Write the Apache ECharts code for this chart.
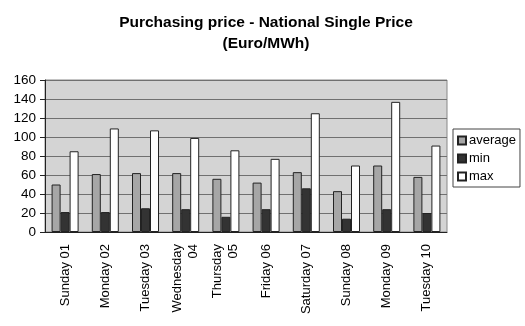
<!DOCTYPE html>
<html>
<head>
<meta charset="utf-8">
<script src="https://cdn.jsdelivr.net/npm/echarts@6/dist/echarts.min.js"></script>
<style>
    html, body { margin: 0; padding: 0; background: #fff; }
    #chart { width: 525px; height: 326px; }
</style>
</head>
<body>
<div id="chart"></div>
<script>
    // 数据
    var days = ['Sunday 01', 'Monday 02', 'Tuesday 03', 'Wednesday\n04', 'Thursday\n05',
        'Friday 06', 'Saturday 07', 'Sunday 08', 'Monday 09', 'Tuesday 10'];
    var avgPrice = [50, 61, 62, 62, 56, 52, 63, 43, 70, 58];
    var minPrice = [21, 21, 25, 24, 16, 24, 46, 14, 24, 20];
    var maxPrice = [85, 109, 107, 99, 86, 77, 125, 70, 137, 91];

    var font = 'Liberation Sans, Arial, sans-serif';

    function barSeries(name, data, color) {
        return {
            name: name,
            type: 'bar',
            data: data,
            barWidth: 9,
            barGap: '0%',
            itemStyle: { color: color, borderColor: '#222', borderWidth: 1 }
        };
    }

    var myChart = echarts.init(document.getElementById('chart'));
    var option = {
        animation: false,
        title: {
            text: 'Purchasing price - National Single Price\n(Euro/MWh)',
            left: 261,
            textAlign: 'center',
            top: 7,
            textStyle: { fontFamily: font, fontSize: 15.5, fontWeight: 'bold', color: '#000', lineHeight: 21 }
        },
        grid: {
            left: 45,
            right: 78,
            top: 80,
            bottom: 94,
            show: true,
            backgroundColor: '#d4d4d4',
            borderColor: '#888',
            borderWidth: 1
        },
        legend: {
            orient: 'vertical',
            left: 453,
            top: 129,
            width: 68,
            padding: [5, 4, 4, 4],
            itemGap: 5,
            borderColor: '#444',
            borderWidth: 1,
            icon: 'rect',
            itemWidth: 8,
            itemHeight: 8,
            textStyle: { fontFamily: font, fontSize: 13, color: '#000', padding: [0, 0, 0, -2] },
            data: ['average', 'min', 'max']
        },
        xAxis: {
            type: 'category',
            data: days,
            axisLine: { lineStyle: { color: '#222' } },
            axisTick: { length: 5, lineStyle: { color: '#222' } },
            axisLabel: {
                rotate: 90,
                interval: 0,
                fontFamily: font,
                fontSize: 13,
                color: '#000',
                lineHeight: 16,
                margin: 12
            }
        },
        yAxis: {
            type: 'value',
            min: 0,
            max: 160,
            interval: 20,
            axisLine: { show: true, lineStyle: { color: '#222' } },
            axisTick: { show: true, length: 5, lineStyle: { color: '#222' } },
            splitLine: { lineStyle: { color: '#707070', width: 1 } },
            axisLabel: { fontFamily: font, fontSize: 13.5, color: '#000', margin: 9 }
        },
        series: [
            barSeries('average', avgPrice, '#a6a6a6'),
            barSeries('min', minPrice, '#333333'),
            barSeries('max', maxPrice, '#ffffff')
        ]
    };
    myChart.setOption(option);
</script>
</body>
</html>
